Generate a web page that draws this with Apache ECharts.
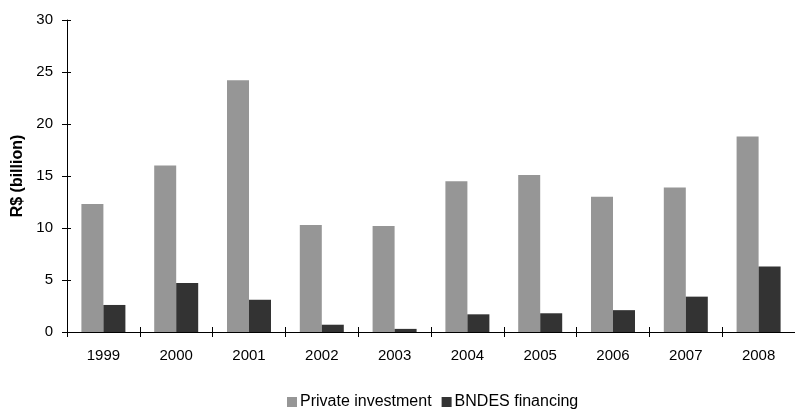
<!DOCTYPE html>
<html>
<head>
<meta charset="utf-8">
<script src="https://cdn.jsdelivr.net/npm/echarts@6/dist/echarts.min.js"></script>
<style>
  html, body { margin: 0; padding: 0; background: #fff; }
  #chart { width: 795px; height: 410px; }
</style>
</head>
<body>
<div id="chart"></div>
<script>
// Years on the category axis
const years = ['1999', '2000', '2001', '2002', '2003', '2004', '2005', '2006', '2007', '2008'];
// R$ billion per year
const privateInvestment = [12.3, 16.0, 24.2, 10.3, 10.2, 14.5, 15.1, 13.0, 13.9, 18.8];
const bndesFinancing = [2.6, 4.7, 3.1, 0.7, 0.3, 1.7, 1.8, 2.1, 3.4, 6.3];
// Value-axis scale
const yMin = 0, yMax = 30, yStep = 5;

const FONT = '"Liberation Sans", Arial, sans-serif';
const chart = echarts.init(document.getElementById('chart'));

// plot area runs a little past the right edge of the canvas
const gridBox = { left: 67, top: 20, width: 739, height: 312 };

chart.setOption({
  animation: false,
  textStyle: { fontFamily: FONT, color: '#000' },
  grid: gridBox,
  legend: {
    top: 389,
    left: 282,
    itemWidth: 10,
    itemHeight: 10,
    itemGap: 10,
    icon: 'rect',
    textStyle: { fontFamily: FONT, fontSize: 16, color: '#000', padding: [0, 0, 0, -2] },
    data: ['Private investment', 'BNDES financing']
  },
  xAxis: [
    {
      type: 'category',
      data: years,
      axisLine: { lineStyle: { color: '#000', width: 1 } },
      axisTick: { show: true, length: 5, lineStyle: { color: '#000' } },
      axisLabel: { fontFamily: FONT, fontSize: 15, color: '#000', margin: 16 },
      splitLine: { show: false }
    },
    {
      // inner half of the crossing ticks
      type: 'category',
      data: years,
      position: 'bottom',
      axisLine: { show: false },
      axisTick: { show: true, inside: true, length: 5, lineStyle: { color: '#000' } },
      axisLabel: { show: false },
      splitLine: { show: false }
    }
  ],
  yAxis: [
    {
      type: 'value',
      min: yMin, max: yMax, interval: yStep,
      name: 'R$ (billion)',
      nameLocation: 'middle',
      nameGap: 41,
      nameRotate: 90,
      nameTextStyle: { fontFamily: FONT, fontSize: 16, fontWeight: 'bold', color: '#000' },
      axisLine: { show: true, lineStyle: { color: '#000', width: 1 } },
      axisTick: { show: true, length: 5, lineStyle: { color: '#000' } },
      axisLabel: { fontFamily: FONT, fontSize: 15, color: '#000', margin: 14 },
      splitLine: { show: false }
    },
    {
      type: 'value',
      min: yMin, max: yMax, interval: yStep,
      position: 'left',
      axisLine: { show: false },
      axisTick: { show: true, inside: true, length: 4, lineStyle: { color: '#000' } },
      axisLabel: { show: false },
      splitLine: { show: false }
    }
  ],
  series: [
    {
      name: 'Private investment',
      type: 'bar',
      data: privateInvestment,
      barWidth: 22,
      barGap: '0%',
      itemStyle: { color: '#969696' }
    },
    {
      name: 'BNDES financing',
      type: 'bar',
      data: bndesFinancing,
      barWidth: 22,
      barGap: '0%',
      itemStyle: { color: '#333333' }
    }
  ]
});
</script>
</body>
</html>
